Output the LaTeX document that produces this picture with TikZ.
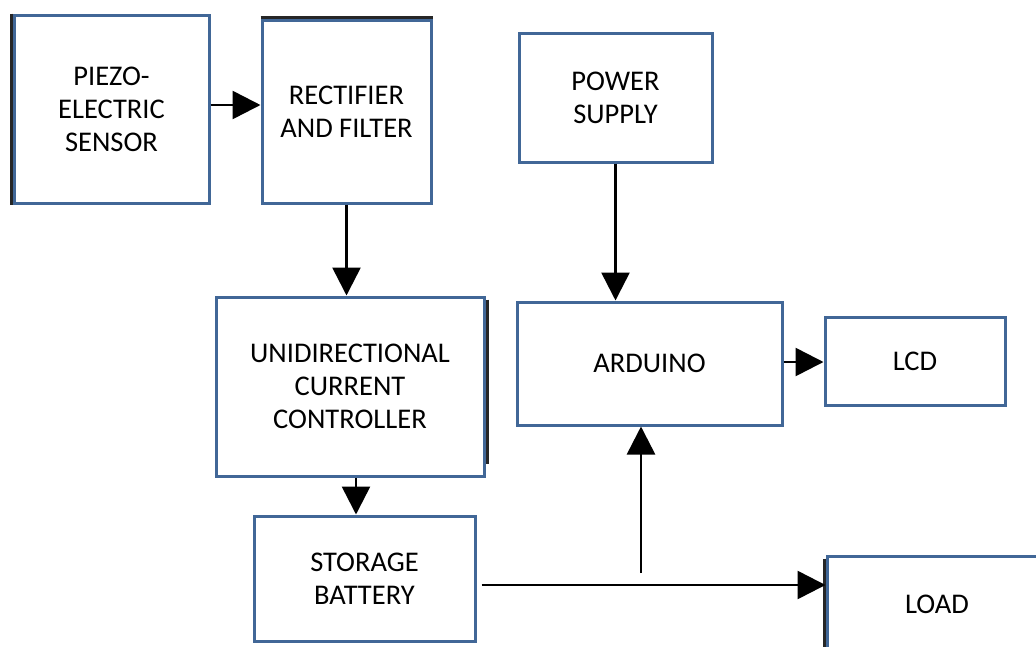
\documentclass[tikz,border=0pt]{standalone}
\usepackage{fontspec}
\setmainfont{Carlito}
\usetikzlibrary{arrows.meta}
\definecolor{boxblue}{RGB}{65,103,151}
\tikzset{
  blk/.style={draw=boxblue, line width=3pt, fill=white, inner sep=0pt, align=center,
    font=\fontsize{28.5}{33}\selectfont, text=black},
  lbl/.style={inner sep=0pt, align=center, font=\fontsize{28.5}{33}\selectfont, text=black},
  arr/.style={draw=black, line width=2.6pt, -{Triangle[length=28pt,width=28pt]}},
  edge/.style={draw=black!85, line width=2.2pt}
}
\begin{document}
\begin{tikzpicture}[x=1pt,y=-1pt]
\useasboundingbox[fill=white] (0,0) rectangle (1036,646);
\begin{scope}
\clip (0,0) rectangle (1036,646);
\node[blk, minimum width=195pt, minimum height=188pt] (piezo) at (111.5,109) {PIEZO-\\ELECTRIC\\SENSOR};
\node[blk, minimum width=169pt, minimum height=183pt] (rect) at (346.5,111.5) {RECTIFIER\\AND FILTER};
\node[blk, minimum width=193pt, minimum height=129pt] (power) at (615.5,97.5) {POWER\\SUPPLY};
\node[blk, minimum width=268pt, minimum height=179pt] (unidir) at (350,386.5) {UNIDIRECTIONAL\\CURRENT\\CONTROLLER};
\node[blk, minimum width=265pt, minimum height=123pt] (arduino) at (649.5,363.5) {ARDUINO};
\node[blk, minimum width=180pt, minimum height=88pt] (lcd) at (915,361) {LCD};
\node[blk, minimum width=221pt, minimum height=125pt] (storage) at (364.5,578.5) {STORAGE\\BATTERY};
\node[blk, minimum width=220pt, minimum height=96pt] (load) at (937,604) {};
\node[lbl] (loadtext) at (937,604) {LOAD};
% dark edge shading of the scanned boxes
\draw[edge] ([xshift=-1pt]piezo.north west) -- ([xshift=-1pt]piezo.south west);
\draw[edge] ([yshift=1pt]rect.north west) -- ([yshift=1pt]rect.north east);
\draw[edge] ([xshift=2pt,yshift=-4pt]unidir.north east) -- ([xshift=2pt,yshift=14pt]unidir.south east);
\draw[edge] ([xshift=-1pt,yshift=-4pt]load.north west) -- ([xshift=-1pt]load.south west);
% connectors
\draw[arr] (piezo.east |- 0,105) -- (rect.west |- 0,105);
\draw[arr] (rect.south) -- (rect.south |- unidir.north);
\draw[arr] (power.south) -- (power.south |- arduino.north);
\draw[arr] (unidir.south -| 356,0) -- (storage.north -| 356,0);
\draw[arr] (arduino.east |- 0,362) -- (lcd.west |- 0,362);
\draw[arr, shorten <=5pt] (storage.east |- 0,585) -- (load.west |- 0,585);
\coordinate (j) at (641,573);
\draw[arr] (j) -- (j |- arduino.south);
\end{scope}
\end{tikzpicture}
\end{document}
